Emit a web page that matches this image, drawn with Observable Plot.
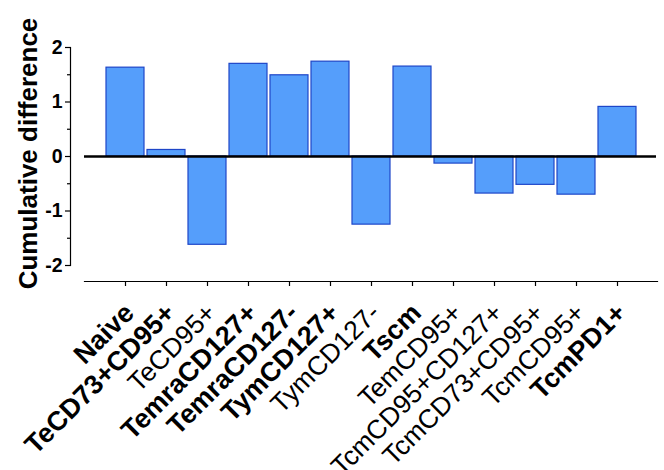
<!DOCTYPE html>
<html><head><meta charset="utf-8">
<script src="https://cdn.jsdelivr.net/npm/d3@7"></script>
<script src="https://cdn.jsdelivr.net/npm/@observablehq/plot@0.6"></script>
<style>html,body{margin:0;padding:0;background:#fff} svg{display:block}</style>
</head><body><div id="chart"></div>
<script>
const categories = ["Naive","TeCD73+CD95+","TeCD95+","TemraCD127+","TemraCD127-","TymCD127+","TymCD127-","Tscm","TemCD95+","TcmCD95+CD127+","TcmCD73+CD95+","TcmCD95+","TcmPD1+"];
const values = [1.63, 0.12, -1.62, 1.70, 1.49, 1.74, -1.25, 1.65, -0.13, -0.68, -0.52, -0.70, 0.91];
const boldCategories = ["Naive","TeCD73+CD95+","TemraCD127+","TemraCD127-","TymCD127+","Tscm","TcmPD1+"];
const yTicks = [-2, -1, 0, 1, 2];
const yTickLabels = ["-2", "-1", "0", "1", "2"];
const yMinorTicks = [-1.5, -0.5, 0.5, 1.5];
const yTitle = "Cumulative difference";

const data = categories.map((c, i) => ({category: c, value: values[i]}));
const boldSet = new Set(boldCategories);
const font = "'Liberation Sans', Arial, sans-serif";

const chart = Plot.plot({
  width: 664, height: 470,
  marginTop: 47, marginBottom: 189, marginLeft: 70, marginRight: 7,
  style: {fontFamily: font, background: "#fff", color: "#000"},
  x: {domain: categories, range: [101.3, 639.5], paddingInner: 0.08, paddingOuter: 0.04, axis: null},
  y: {domain: [-2, 2], range: [265, 47], axis: null},
  marks: [
    Plot.barY(data, {x: "category", y: "value", fill: "#559EFB", stroke: "#1E46C8", strokeWidth: 1.2}),
    Plot.ruleY([0], {stroke: "#000", strokeWidth: 2.4, insetLeft: 14, insetRight: 1}),
    Plot.frame({anchor: "left", insetBottom: 16, stroke: "#000", strokeWidth: 1.2}),
    Plot.frame({anchor: "bottom", insetLeft: 14, stroke: "#000", strokeWidth: 1.2}),
    Plot.axisY({ticks: yTicks, tickSize: 5, tickFormat: () => "", label: null, strokeWidth: 1.2}),
    Plot.axisY({ticks: yMinorTicks, tickSize: 3, tickFormat: () => "", label: null, strokeWidth: 1.2}),
    Plot.text(yTicks, {y: d => d, text: d => yTickLabels[yTicks.indexOf(d)], frameAnchor: "left", textAnchor: "end", lineAnchor: "middle", dx: -8, fontSize: 19.5, fontWeight: "bold", fill: "#000"}),
    Plot.axisX({tickSize: 5, tickFormat: () => "", label: null, strokeWidth: 1.2}),
    Plot.text(categories, {filter: d => boldSet.has(d), x: d => d, frameAnchor: "bottom", rotate: -45, textAnchor: "end", lineAnchor: "middle", dx: 4, dy: 27, fontSize: 27, fontWeight: "bold", fill: "#000"}),
    Plot.text(categories, {filter: d => !boldSet.has(d), x: d => d, frameAnchor: "bottom", rotate: -45, textAnchor: "end", lineAnchor: "middle", dx: 4, dy: 27, fontSize: 26.5, fontWeight: "normal", fill: "#000"}),
    Plot.text([yTitle], {frameAnchor: "left", rotate: -90, textAnchor: "middle", dx: -42, dy: -11, fontSize: 26, fontWeight: "bold", lineAnchor: "middle", fill: "#000"})
  ]
});
document.getElementById("chart").appendChild(chart);
</script>
</body></html>
